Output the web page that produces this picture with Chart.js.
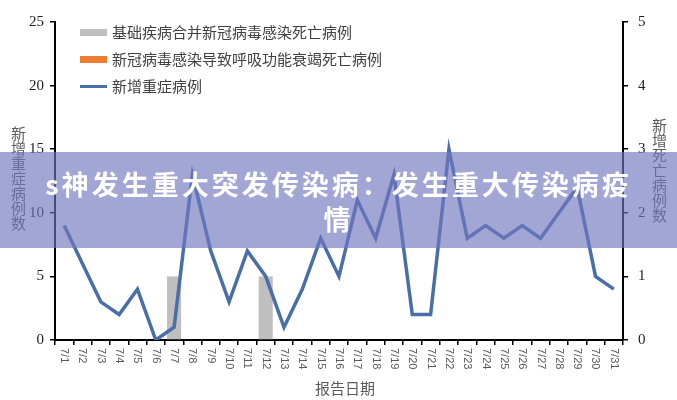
<!DOCTYPE html>
<html>
<head>
<meta charset="utf-8">
<script src="https://cdn.jsdelivr.net/npm/chart.js@4.4.1/dist/chart.umd.min.js"></script>
<style>
  html, body { margin: 0; padding: 0; background: #fff; }
  #wrap { position: relative; width: 677px; height: 400px; overflow: hidden; }
  #chart { position: absolute; left: 0; top: 0; }
  .legend { position: absolute; left: 80px; font: 15px "Noto Sans CJK SC", sans-serif; color: #404040; }
  .legend .row { position: absolute; left: 0; white-space: nowrap; height: 20px; line-height: 20px; }
  .legend .sw { position: absolute; left: 0; width: 27px; }
  .legend .txt { position: absolute; left: 32px; top: 0; }
  .vtitle { position: absolute; writing-mode: vertical-rl; font: 15px "Noto Sans CJK SC", sans-serif; color: #595959; line-height: 15px; }
  #xtitle { position: absolute; left: 315px; top: 377px; font: 15px "Noto Sans CJK SC", sans-serif; color: #595959; }
  #banner { position: absolute; left: 0; top: 152px; width: 677px; height: 96px; background: rgba(110,118,190,0.65);
            color: #fff; font: bold 27px "Noto Sans CJK SC", sans-serif; letter-spacing: 3px; text-align: center;
            line-height: 35px; padding-top: 14px; box-sizing: border-box; }
</style>
</head>
<body>
<div id="wrap">
  <canvas id="chart" width="677" height="400"></canvas>
  <div class="legend">
    <div class="row" style="top:22px"><div class="sw" style="top:7px;height:7px;background:#bfbfbf"></div><div class="txt">基础疾病合并新冠病毒感染死亡病例</div></div>
    <div class="row" style="top:49px"><div class="sw" style="top:7px;height:7px;background:#ed7d31"></div><div class="txt">新冠病毒感染导致呼吸功能衰竭死亡病例</div></div>
    <div class="row" style="top:76px"><div class="sw" style="top:9px;height:3px;background:#4a6ea8"></div><div class="txt">新增重症病例</div></div>
  </div>
  <div class="vtitle" style="left:11px;top:126px">新增重症病例数</div>
  <div class="vtitle" style="left:652px;top:118px">新增死亡病例数</div>
  <div id="xtitle">报告日期</div>
  <div id="banner">s神发生重大突发传染病：发生重大传染病疫<br>情</div>
</div>
<script>
const dates = ["7/1","7/2","7/3","7/4","7/5","7/6","7/7","7/8","7/9","7/10","7/11","7/12","7/13","7/14","7/15","7/16",
  "7/17","7/18","7/19","7/20","7/21","7/22","7/23","7/24","7/25","7/26","7/27","7/28","7/29","7/30","7/31"];
// 新增重症病例 (left axis)
const severeCases = [9,6,3,2,4,0,1,13,7,3,7,5,1,4,8,5,11,8,13,2,2,15,8,9,8,9,8,10,12,5,4];
// 死亡病例 (right axis)
const deathsComorbid = [0,0,0,0,0,0,1,0,0,0,0,1,0,0,0,0,0,0,0,0,0,0,0,0,0,0,0,0,0,0,0];
const deathsRespiratory = [0,0,0,0,0,0,0,0,0,0,0,0,0,0,0,0,0,0,0,0,0,0,0,0,0,0,0,0,0,0,0];
const leftTicks = [0,5,10,15,20,25];
const rightTicks = [0,1,2,3,4,5];

// x labels rotated clockwise, drawn at the scale's own tick positions
const rotatedLabels = {
  id: "rotatedLabels",
  afterDraw(chart) {
    const xs = chart.scales.x;
    const ctx = chart.ctx;
    ctx.save();
    ctx.fillStyle = "#595959";
    ctx.font = '11px "Liberation Sans", sans-serif';
    ctx.textAlign = "left";
    ctx.textBaseline = "middle";
    dates.forEach((d, i) => {
      ctx.save();
      ctx.translate(xs.getPixelForValue(i), xs.top + 8);
      ctx.rotate(Math.PI / 2);
      ctx.fillText(d, 0, 0);
      ctx.restore();
    });
    ctx.restore();
  }
};

const ctx = document.getElementById("chart").getContext("2d");
new Chart(ctx, {
  data: {
    labels: dates,
    datasets: [
      {
        type: "line",
        label: "新增重症病例",
        data: severeCases,
        yAxisID: "y",
        borderColor: "#4a6ea8",
        borderWidth: 3.5,
        pointRadius: 0,
        tension: 0,
        order: 0,
      },
      {
        type: "bar",
        label: "基础疾病合并新冠病毒感染死亡病例",
        data: deathsComorbid,
        yAxisID: "y1",
        backgroundColor: "#bfbfbf",
        grouped: false,
        barPercentage: 0.77,
        categoryPercentage: 1,
        order: 1,
      },
      {
        type: "bar",
        label: "新冠病毒感染导致呼吸功能衰竭死亡病例",
        data: deathsRespiratory,
        yAxisID: "y1",
        backgroundColor: "#ed7d31",
        grouped: false,
        barPercentage: 0.77,
        categoryPercentage: 1,
        order: 2,
      },
    ],
  },
  options: {
    responsive: false,
    animation: false,
    layout: { padding: { top: 22, left: 0, right: 0, bottom: 0 } },
    plugins: { legend: { display: false }, tooltip: { enabled: false } },
    scales: {
      x: {
        type: "category",
        offset: true,
        grid: { offset: true, drawOnChartArea: false, drawTicks: true, tickLength: 5, color: "#000", lineWidth: 1.5 },
        border: { color: "#000", width: 2 },
        ticks: { display: false },
        afterFit: (s) => { s.height = 60; },
      },
      y: {
        position: "left",
        min: 0,
        max: 25,
        afterBuildTicks: (s) => { s.ticks = leftTicks.map((v) => ({ value: v })); },
        grid: { drawOnChartArea: false, tickLength: 5, color: "#000", lineWidth: 1.5 },
        border: { color: "#000", width: 2 },
        ticks: { padding: 6, color: "#222", font: { family: "Liberation Serif", size: 15 } },
        afterFit: (s) => { s.width = 55; },
      },
      y1: {
        position: "right",
        min: 0,
        max: 5,
        afterBuildTicks: (s) => { s.ticks = rightTicks.map((v) => ({ value: v })); },
        grid: { drawOnChartArea: false, tickLength: 5, color: "#000", lineWidth: 1.5 },
        border: { color: "#000", width: 2 },
        ticks: { padding: 10, color: "#222", font: { family: "Liberation Serif", size: 15 } },
        afterFit: (s) => { s.width = 54; },
      },
    },
  },
  plugins: [rotatedLabels],
});
</script>
</body>
</html>
